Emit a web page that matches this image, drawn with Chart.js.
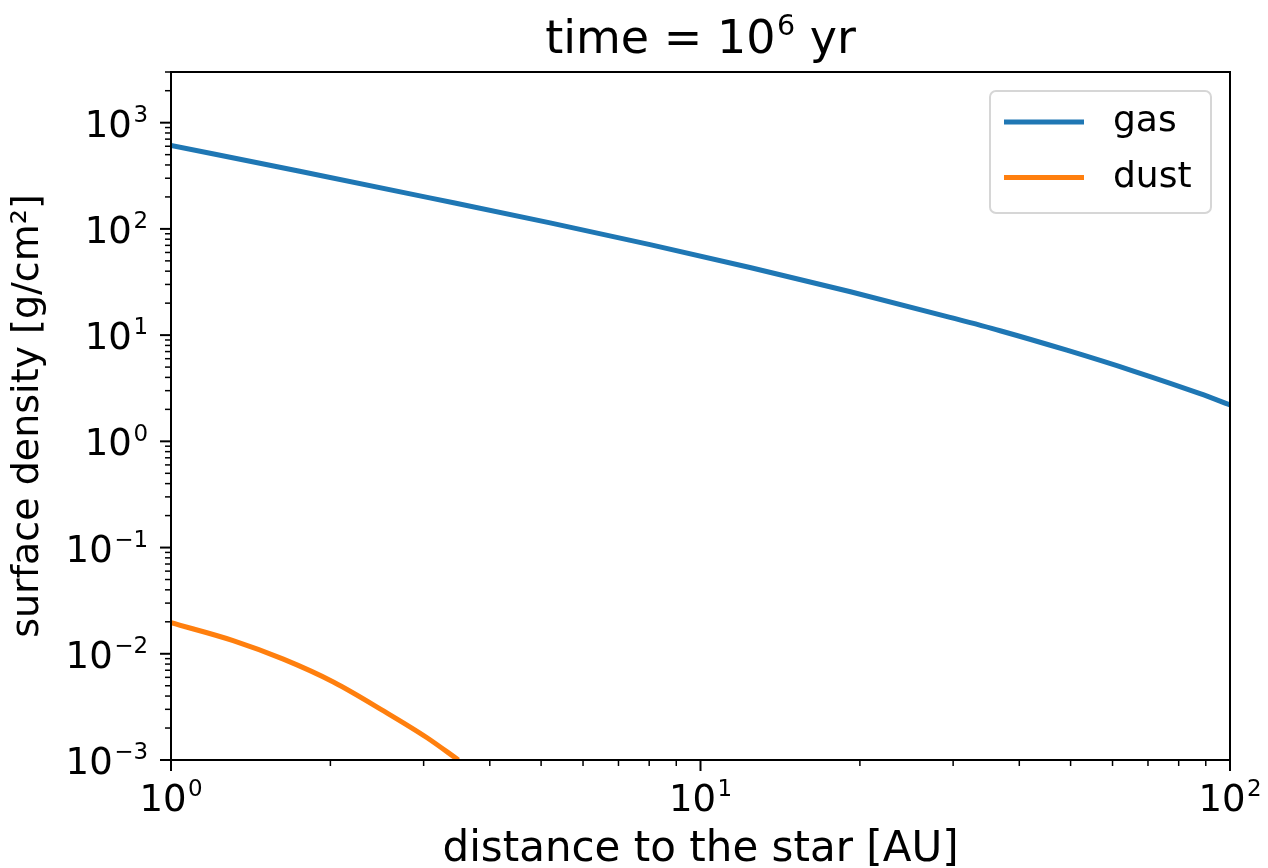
<!DOCTYPE html>
<html>
<head>
<meta charset="utf-8">
<title>Surface density</title>
<script src="https://cdn.jsdelivr.net/npm/chart.js@4.4.1/dist/chart.umd.min.js"></script>
<style>
  html, body { margin: 0; padding: 0; background: #ffffff; }
  #wrap { width: 1268px; height: 868px; }
</style>
</head>
<body>
<div id="wrap"><canvas id="densityChart"></canvas></div>
<script>
// radial profiles at t = 1e6 yr (AU, g/cm^2)
const gasRadius = [1, 1.75, 3.08, 5.2, 8.03, 12.4, 19.2, 29.6, 36.8, 49.2, 65.7, 87.8, 100];
const gasDensity = [611, 349, 196, 114, 71.1, 43.3, 25.6, 14.7, 11.0, 7.21, 4.59, 2.81, 2.2];
const dustRadius = [1, 1.31, 1.63, 2.03, 2.52, 3.04, 3.49];
const dustDensity = [0.0196, 0.0133, 0.0089, 0.0054, 0.0029, 0.00163, 0.001];

const xTicks = [1, 10, 100];
const xTickPowers = ["0", "1", "2"];
const yTicks = [1e-3, 1e-2, 1e-1, 1, 10, 100, 1000];
const yTickPowers = ["\u22123", "\u22122", "\u22121", "0", "1", "2", "3"];

const titleParts = [{ text: "time = 10" }, { text: "6", sup: true }, { text: " yr" }];

const blue = "#1f77b4";
const orange = "#ff7f0e";
const fontFamily = "DejaVu Sans";
const tickSize = 37;

function toPoints(xs, ys) {
  return xs.map((x, i) => ({ x, y: ys[i] }));
}

// every 1..9 x 10^n between min and max, decades flagged as major
function logTickMarks(min, max) {
  const marks = [];
  for (let e = Math.floor(Math.log10(min)); e <= Math.ceil(Math.log10(max)); e++) {
    for (let k = 1; k <= 9; k++) {
      const v = k * Math.pow(10, e);
      if (v >= min * 0.999 && v <= max * 1.001) marks.push({ v, major: k === 1 });
    }
  }
  return marks;
}

// text with raised, smaller exponent pieces (mathtext look)
function drawMath(ctx, parts, x, baseline, size, align) {
  const supSize = size * 0.62;
  const widths = parts.map((p) => {
    ctx.font = `${p.sup ? supSize : size}px ${fontFamily}`;
    return ctx.measureText(p.text).width + (p.sup ? 1.5 : 0);
  });
  const total = widths.reduce((a, b) => a + b, 0);
  let cx = x;
  if (align === "right") cx = x - total;
  if (align === "center") cx = x - total / 2;
  ctx.textAlign = "left";
  ctx.textBaseline = "alphabetic";
  parts.forEach((p, i) => {
    ctx.font = `${p.sup ? supSize : size}px ${fontFamily}`;
    ctx.fillText(p.text, cx + (p.sup ? 1.5 : 0), p.sup ? baseline - size * 0.4 : baseline);
    cx += widths[i];
  });
}

function powerOfTen(exp) {
  return [{ text: "10" }, { text: exp, sup: true }];
}

// black frame, outward major/minor ticks, tick labels and title
const framePlugin = {
  id: "frame",
  afterDraw(chart) {
    const { ctx, chartArea } = chart;
    const { left, right, top, bottom } = chartArea;
    const xs = chart.scales.x;
    const ys = chart.scales.y;
    ctx.save();
    ctx.strokeStyle = "#000";
    ctx.fillStyle = "#000";
    ctx.lineCap = "butt";

    logTickMarks(xs.min, xs.max).forEach((m) => {
      const px = xs.getPixelForValue(m.v);
      ctx.lineWidth = m.major ? 2 : 1.5;
      ctx.beginPath();
      ctx.moveTo(px, bottom);
      ctx.lineTo(px, bottom + (m.major ? 11 : 6));
      ctx.stroke();
    });
    logTickMarks(ys.min, ys.max).forEach((m) => {
      const py = ys.getPixelForValue(m.v);
      ctx.lineWidth = m.major ? 2 : 1.5;
      ctx.beginPath();
      ctx.moveTo(left, py);
      ctx.lineTo(left - (m.major ? 11 : 6), py);
      ctx.stroke();
    });

    ctx.lineWidth = 2;
    ctx.strokeRect(left, top, right - left, bottom - top);

    xTicks.forEach((v, i) => {
      drawMath(ctx, powerOfTen(xTickPowers[i]), xs.getPixelForValue(v), bottom + 51, tickSize, "center");
    });
    yTicks.forEach((v, i) => {
      drawMath(ctx, powerOfTen(yTickPowers[i]), left - 23, ys.getPixelForValue(v) + 14, tickSize, "right");
    });

    drawMath(ctx, titleParts, (left + right) / 2, 53, 46, "center");
    ctx.restore();
  }
};

// legend box in the upper right of the axes
const legendPlugin = {
  id: "boxLegend",
  afterDraw(chart) {
    const { ctx, chartArea } = chart;
    const w = 221;
    const h = 122;
    const x0 = chartArea.right - 19 - w;
    const y0 = chartArea.top + 19;
    ctx.save();
    ctx.beginPath();
    ctx.roundRect(x0, y0, w, h, 6);
    ctx.fillStyle = "rgba(255,255,255,0.8)";
    ctx.fill();
    ctx.lineWidth = 2;
    ctx.strokeStyle = "#d6d6d6";
    ctx.stroke();

    ctx.font = `36px ${fontFamily}`;
    ctx.textBaseline = "middle";
    ctx.textAlign = "left";
    chart.data.datasets.forEach((ds, i) => {
      const y = y0 + 31 + i * 55.5;
      ctx.strokeStyle = ds.borderColor;
      ctx.lineWidth = 5;
      ctx.beginPath();
      ctx.moveTo(x0 + 14, y);
      ctx.lineTo(x0 + 94, y);
      ctx.stroke();
      ctx.fillStyle = "#000";
      ctx.fillText(ds.label, x0 + 123, y);
    });
    ctx.restore();
  }
};

new Chart(document.getElementById("densityChart"), {
  type: "line",
  plugins: [framePlugin, legendPlugin],
  data: {
    datasets: [
      {
        label: "gas",
        data: toPoints(gasRadius, gasDensity),
        borderColor: blue,
        backgroundColor: blue,
        borderWidth: 5,
        pointRadius: 0,
        cubicInterpolationMode: "monotone"
      },
      {
        label: "dust",
        data: toPoints(dustRadius, dustDensity),
        borderColor: orange,
        backgroundColor: orange,
        borderWidth: 5,
        pointRadius: 0,
        cubicInterpolationMode: "monotone"
      }
    ]
  },
  options: {
    responsive: true,
    maintainAspectRatio: false,
    animation: false,
    layout: { padding: { top: 72, right: 38, bottom: 0, left: 0 } },
    plugins: {
      legend: { display: false },
      tooltip: { enabled: false }
    },
    scales: {
      x: {
        type: "logarithmic",
        min: 1,
        max: 100,
        afterBuildTicks: (scale) => { scale.ticks = xTicks.map((v) => ({ value: v })); },
        afterFit: (scale) => {
          scale.height = 108;
          scale.paddingLeft = 0;
          scale.paddingRight = 0;
        },
        grid: { display: false, drawTicks: false },
        border: { display: false },
        ticks: { display: false },
        title: {
          display: true,
          text: "distance to the star [AU]",
          color: "#000",
          font: { family: fontFamily, size: 42 },
          padding: { top: 0, bottom: -7 }
        }
      },
      y: {
        type: "logarithmic",
        min: 1e-3,
        max: 3000,
        afterBuildTicks: (scale) => { scale.ticks = yTicks.map((v) => ({ value: v })); },
        afterFit: (scale) => {
          scale.width = 171;
          scale.paddingTop = 0;
          scale.paddingBottom = 0;
        },
        grid: { display: false, drawTicks: false },
        border: { display: false },
        ticks: { display: false },
        title: {
          display: true,
          text: "surface density [g/cm²]",
          color: "#000",
          font: { family: fontFamily, size: 38 },
          padding: { top: 5, bottom: 0 }
        }
      }
    }
  }
});
</script>
</body>
</html>
